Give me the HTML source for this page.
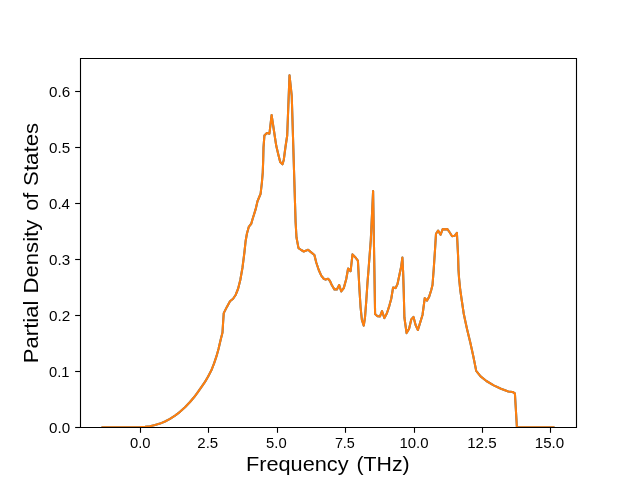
<!DOCTYPE html>
<html>
<head>
<meta charset="utf-8">
<title>Partial Density of States</title>
<style>
html,body{margin:0;padding:0;background:#ffffff;}
body{width:640px;height:480px;overflow:hidden;position:relative;font-family:"Liberation Sans",sans-serif;}
</style>
</head>
<body>
<svg width="640" height="480" viewBox="0 0 640 480" style="position:absolute;left:0;top:0;display:block;will-change:transform">
<rect x="0" y="0" width="640" height="480" fill="#ffffff"/>
<defs><clipPath id="ax"><rect x="80" y="57.6" width="496" height="369.6"/></clipPath></defs>
<g clip-path="url(#ax)" fill="none" stroke-width="2.083" stroke-linejoin="round" stroke-linecap="square">
<polyline stroke="#1f77b4" points="102.55,427.2 140,427.0 145,426.8 150,426.2 155,425.0 160,423.6 165,421.5 170,418.9 175,415.6 180,411.8 185,407.2 190,402.0 194,397.3 197.5,392.6 201,387.6 205,381.9 208,376.8 211.25,370.6 214,363.6 216.5,356.2 218.5,349 220.6,340 222.5,332.5 223.1,322.5 223.75,313.1 226.9,306.9 230,301.25 233.1,298.75 235.6,295 238.1,288.75 240.3,280 242.5,267.5 244.4,252.5 245.6,241.25 246.9,233.75 248.75,226.9 251.25,223.75 252.3,220 255.6,209.4 257.5,201.25 260.6,193.75 261.9,182.5 262.75,172.5 263.2,160 263.5,147.5 264.4,135.6 266.9,133.1 269.4,133.75 270.6,123.75 271.6,115 273.1,125 274.6,135 276.25,145.8 278.3,154.5 280.2,162 282.5,164.3 283.75,160 285.4,147.5 287.2,135.5 289.5,75.2 291.75,96 294.0,170 295.6,222 296.5,237.5 298.5,248.1 301.25,250 303.75,251.5 306.25,250.6 308.1,249.75 310.6,251.9 314.4,255 316.25,262.5 318.75,270 321.25,275.6 323.75,278.75 325.6,279.6 328.1,278.75 330,281 331.9,285.3 334.4,289.4 336.9,289.4 339.2,285 341.25,291.5 343.75,288.1 346.25,279 348.1,268.5 350.6,271.25 352.5,254.4 355,256.9 357.9,260.6 359.4,288.75 360.6,307.5 361.9,320 363.75,325.6 365,317.5 366.25,301.25 367.5,282.5 368.5,270 370.8,240 373.1,191 375.1,314 377.5,316.25 380,316.4 382,311 384.4,318.1 386.9,313.3 389.4,305.6 391.25,298.75 393.1,287.5 395.6,288.1 397.5,284 399.4,275 401.25,266.25 402.4,257.5 403.1,271.25 403.75,292 404.4,317.5 406.6,333.1 409.1,328.75 411.25,319.4 413.5,316.9 415.6,325 417.9,330 420,323.1 422.5,315 424.75,298.1 426.9,300.6 429.1,296.9 431.25,290 432.5,285 433.75,268.75 435,250 436,233.75 438.1,230.6 440.6,234.75 442.7,229.1 445,229.4 447.4,229.1 449.75,232.5 452.1,236.2 454.6,235.8 456.9,232.8 458.1,256.25 458.5,270 459,277.5 460.25,290 461.9,301.25 463.75,313.75 465.6,322.5 467.25,330 470.4,343.1 473.3,356.2 476.2,370.8 480.6,376.4 486.4,381 493.7,385.4 501,388.75 508.3,391.5 512.7,392 514.9,393.4 515.6,405 516.9,427.2 553.45,427.2"/>
<polyline stroke="#ff7f0e" points="102.55,427.2 140,427.0 145,426.8 150,426.2 155,425.0 160,423.6 165,421.5 170,418.9 175,415.6 180,411.8 185,407.2 190,402.0 194,397.3 197.5,392.6 201,387.6 205,381.9 208,376.8 211.25,370.6 214,363.6 216.5,356.2 218.5,349 220.6,340 222.5,332.5 223.1,322.5 223.75,313.1 226.9,306.9 230,301.25 233.1,298.75 235.6,295 238.1,288.75 240.3,280 242.5,267.5 244.4,252.5 245.6,241.25 246.9,233.75 248.75,226.9 251.25,223.75 252.3,220 255.6,209.4 257.5,201.25 260.6,193.75 261.9,182.5 262.75,172.5 263.2,160 263.5,147.5 264.4,135.6 266.9,133.1 269.4,133.75 270.6,123.75 271.6,115 273.1,125 274.6,135 276.25,145.8 278.3,154.5 280.2,162 282.5,164.3 283.75,160 285.4,147.5 287.2,135.5 289.5,75.2 291.75,96 294.0,170 295.6,222 296.5,237.5 298.5,248.1 301.25,250 303.75,251.5 306.25,250.6 308.1,249.75 310.6,251.9 314.4,255 316.25,262.5 318.75,270 321.25,275.6 323.75,278.75 325.6,279.6 328.1,278.75 330,281 331.9,285.3 334.4,289.4 336.9,289.4 339.2,285 341.25,291.5 343.75,288.1 346.25,279 348.1,268.5 350.6,271.25 352.5,254.4 355,256.9 357.9,260.6 359.4,288.75 360.6,307.5 361.9,320 363.75,325.6 365,317.5 366.25,301.25 367.5,282.5 368.5,270 370.8,240 373.1,191 375.1,314 377.5,316.25 380,316.4 382,311 384.4,318.1 386.9,313.3 389.4,305.6 391.25,298.75 393.1,287.5 395.6,288.1 397.5,284 399.4,275 401.25,266.25 402.4,257.5 403.1,271.25 403.75,292 404.4,317.5 406.6,333.1 409.1,328.75 411.25,319.4 413.5,316.9 415.6,325 417.9,330 420,323.1 422.5,315 424.75,298.1 426.9,300.6 429.1,296.9 431.25,290 432.5,285 433.75,268.75 435,250 436,233.75 438.1,230.6 440.6,234.75 442.7,229.1 445,229.4 447.4,229.1 449.75,232.5 452.1,236.2 454.6,235.8 456.9,232.8 458.1,256.25 458.5,270 459,277.5 460.25,290 461.9,301.25 463.75,313.75 465.6,322.5 467.25,330 470.4,343.1 473.3,356.2 476.2,370.8 480.6,376.4 486.4,381 493.7,385.4 501,388.75 508.3,391.5 512.7,392 514.9,393.4 515.6,405 516.9,427.2 553.45,427.2"/>
</g>
<g stroke="#000000" stroke-width="1.111" fill="none">
<line x1="140.5" y1="427.5" x2="140.5" y2="432.8"/>
<line x1="208.5" y1="427.5" x2="208.5" y2="432.8"/>
<line x1="277.5" y1="427.5" x2="277.5" y2="432.8"/>
<line x1="345.5" y1="427.5" x2="345.5" y2="432.8"/>
<line x1="414.5" y1="427.5" x2="414.5" y2="432.8"/>
<line x1="482.5" y1="427.5" x2="482.5" y2="432.8"/>
<line x1="550.5" y1="427.5" x2="550.5" y2="432.8"/>
<line x1="80" y1="427.5" x2="75.14" y2="427.5"/>
<line x1="80" y1="371.5" x2="75.14" y2="371.5"/>
<line x1="80" y1="315.5" x2="75.14" y2="315.5"/>
<line x1="80" y1="259.5" x2="75.14" y2="259.5"/>
<line x1="80" y1="203.5" x2="75.14" y2="203.5"/>
<line x1="80" y1="147.5" x2="75.14" y2="147.5"/>
<line x1="80" y1="91.5" x2="75.14" y2="91.5"/>
<path d="M80.5 58.5H576.5V427.5H80.5Z" stroke-linejoin="miter"/>
</g>
<g font-family="'Liberation Sans', sans-serif" fill="#000000" opacity="0.999">
<text x="130.01" y="448.0" font-size="14.4" textLength="20.59" lengthAdjust="spacingAndGlyphs">0.0</text>
<text x="197.35" y="448.0" font-size="14.4" textLength="20.85" lengthAdjust="spacingAndGlyphs">2.5</text>
<text x="266.11" y="448.0" font-size="14.4" textLength="20.59" lengthAdjust="spacingAndGlyphs">5.0</text>
<text x="334.88" y="448.0" font-size="14.4" textLength="20.00" lengthAdjust="spacingAndGlyphs">7.5</text>
<text x="399.40" y="448.0" font-size="14.4" textLength="29.14" lengthAdjust="spacingAndGlyphs">10.0</text>
<text x="467.19" y="448.0" font-size="14.4" textLength="29.52" lengthAdjust="spacingAndGlyphs">12.5</text>
<text x="534.79" y="448.0" font-size="14.4" textLength="29.46" lengthAdjust="spacingAndGlyphs">15.0</text>
<text x="48.99" y="432.95" font-size="14.4" textLength="21.12" lengthAdjust="spacingAndGlyphs">0.0</text>
<text x="49.01" y="376.95" font-size="14.4" textLength="20.42" lengthAdjust="spacingAndGlyphs">0.1</text>
<text x="48.99" y="320.95" font-size="14.4" textLength="21.28" lengthAdjust="spacingAndGlyphs">0.2</text>
<text x="48.99" y="264.95" font-size="14.4" textLength="21.12" lengthAdjust="spacingAndGlyphs">0.3</text>
<text x="49.00" y="208.95" font-size="14.4" textLength="20.96" lengthAdjust="spacingAndGlyphs">0.4</text>
<text x="48.99" y="152.95" font-size="14.4" textLength="21.12" lengthAdjust="spacingAndGlyphs">0.5</text>
<text x="48.99" y="96.95" font-size="14.4" textLength="21.12" lengthAdjust="spacingAndGlyphs">0.6</text>
<text x="245.96" y="470.8" font-size="20.5" textLength="102.64" lengthAdjust="spacingAndGlyphs">Frequency</text>
<text x="356.47" y="470.8" font-size="20.5" textLength="53.18" lengthAdjust="spacingAndGlyphs">(THz)</text>
<text transform="translate(38.1,400) rotate(-90)" x="36.73" y="0" font-size="20.5" textLength="62.70" lengthAdjust="spacingAndGlyphs">Partial</text>
<text transform="translate(38.1,400) rotate(-90)" x="106.53" y="0" font-size="20.5" textLength="73.77" lengthAdjust="spacingAndGlyphs">Density</text>
<text transform="translate(38.1,400) rotate(-90)" x="189.33" y="0" font-size="20.5" textLength="18.05" lengthAdjust="spacingAndGlyphs">of</text>
<text transform="translate(38.1,400) rotate(-90)" x="214.09" y="0" font-size="20.5" textLength="63.09" lengthAdjust="spacingAndGlyphs">States</text>
</g>
</svg>
</body>
</html>
